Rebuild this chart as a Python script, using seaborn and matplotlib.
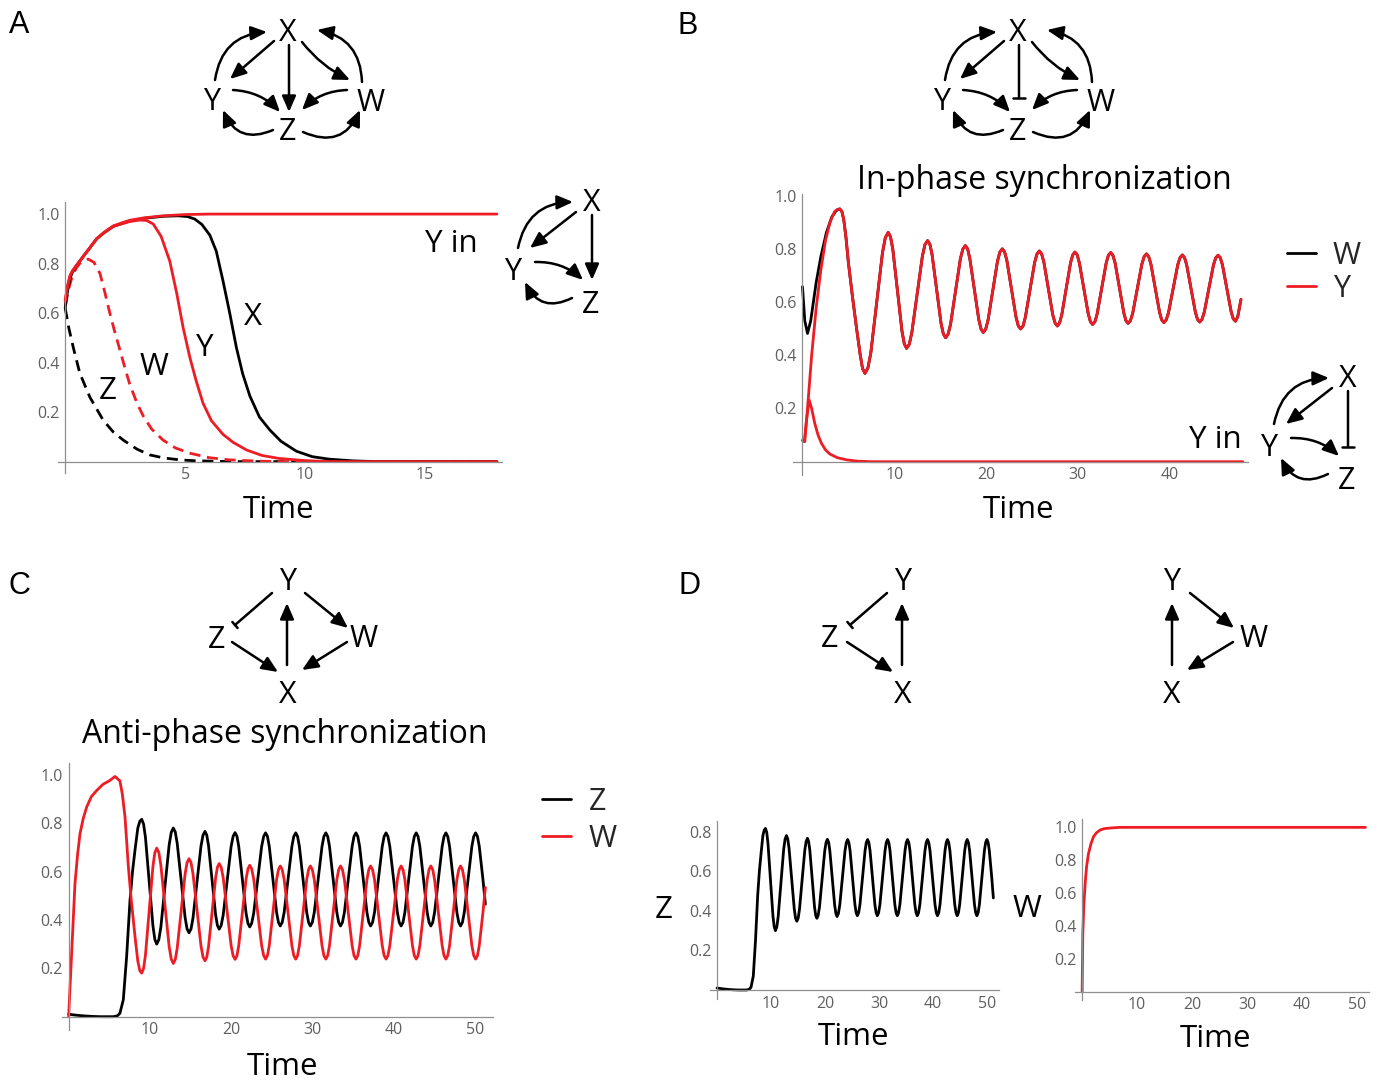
import numpy as np
import matplotlib
matplotlib.use("Agg")
import matplotlib.pyplot as plt
import seaborn as sns

sns.set_style("white")
plt.rcParams["font.family"] = ["Open Sans", "DejaVu Sans"]

RED = "#ee1c24"
GREY = "#8f8f8f"
TICK_TEXT = "#606060"
W_PX, H_PX = 1381, 1081

# ---------------- panel A : time courses (Y in) ----------------
a_yin_t = [0, 0.1, 0.2, 0.3, 0.45, 0.61, 0.8, 1.0, 1.31, 1.6, 2.0, 2.4, 2.7, 3.3, 4.08, 5.0, 6.0, 18.0]
a_yin_v = [0.65, 0.71, 0.75, 0.77, 0.79, 0.81, 0.835, 0.86, 0.9, 0.925, 0.952, 0.966, 0.975, 0.985,
           0.993, 0.998, 1.0, 1.0]

a_x_t = [0, 0.1, 0.2, 0.3, 0.45, 0.61, 0.8, 1.0, 1.31, 1.6, 2.0, 2.4, 2.7, 3.3, 4.08, 4.7, 5.1, 5.4,
         5.7, 6.03, 6.3, 6.58, 6.86, 7.14, 7.4, 7.7, 8.1, 8.53, 9.0, 9.64, 10.3, 11.0, 12.0, 13.0, 18.0]
a_x_v = [0.62, 0.69, 0.74, 0.765, 0.79, 0.81, 0.835, 0.86, 0.9, 0.923, 0.95, 0.963, 0.972, 0.983,
         0.991, 0.993, 0.99, 0.98, 0.958, 0.915, 0.85, 0.73, 0.6, 0.46, 0.355, 0.265, 0.18, 0.128,
         0.082, 0.042, 0.02, 0.01, 0.003, 0.0, 0.0]

a_y_t = [0, 0.1, 0.2, 0.3, 0.45, 0.61, 0.8, 1.0, 1.31, 1.6, 2.0, 2.4, 2.7, 3.11, 3.4, 3.67, 4.0,
         4.36, 4.65, 4.92, 5.2, 5.45, 5.75, 6.1, 6.58, 7.0, 7.56, 8.2, 8.9, 10.0, 11.0, 18.0]
a_y_v = [0.65, 0.71, 0.75, 0.77, 0.79, 0.81, 0.835, 0.86, 0.9, 0.923, 0.95, 0.962, 0.97, 0.976,
         0.974, 0.96, 0.91, 0.81, 0.68, 0.54, 0.42, 0.33, 0.235, 0.165, 0.11, 0.078, 0.047, 0.025,
         0.013, 0.004, 0.0, 0.0]

a_w_t = [0, 0.15, 0.3, 0.45, 0.6, 0.8, 0.96, 1.2, 1.45, 1.65, 1.86, 2.05, 2.27, 2.5, 2.7, 3.0,
         3.25, 3.6, 4.08, 4.6, 5.2, 6.0, 6.86, 8.0, 9.0, 18.0]
a_w_v = [0.63, 0.7, 0.75, 0.78, 0.8, 0.814, 0.818, 0.805, 0.76, 0.685, 0.6, 0.53, 0.455, 0.375,
         0.31, 0.235, 0.185, 0.132, 0.087, 0.055, 0.034, 0.016, 0.007, 0.002, 0.0, 0.0]

a_z_t = [0, 0.15, 0.34, 0.61, 1.03, 1.58, 2.0, 2.42, 3.0, 3.53, 4.1, 4.78, 5.5, 7.0, 18.0]
a_z_v = [0.62, 0.54, 0.46, 0.357, 0.26, 0.168, 0.12, 0.087, 0.05, 0.027, 0.015, 0.007, 0.003, 0.0, 0.0]

# ---------------- panel B : in-phase (W, Y) ----------------
b_y_start_t = [0, 0.25, 0.55, 1.0, 1.5, 2.0, 2.5, 3.0, 3.5, 3.8]
b_y_start_v = [0.08, 0.076, 0.2, 0.40, 0.58, 0.72, 0.83, 0.9, 0.94, 0.948]
b_w_start_t = [0, 0.25, 0.55, 0.9, 1.5, 2.0, 2.6, 3.2, 3.6, 3.85]
b_w_start_v = [0.658, 0.53, 0.482, 0.53, 0.675, 0.77, 0.86, 0.92, 0.94, 0.948]

b_osc_t = [4.08, 4.3, 4.5, 4.75, 5.0, 5.45, 5.9, 6.3, 6.55, 6.81,
           7.13, 7.45, 8.08, 8.72, 9.03, 9.35,
           9.6, 9.85, 10.35, 10.85, 11.1, 11.35,
           11.64, 11.92, 12.5, 13.07, 13.35, 13.64,
           13.89, 14.13, 14.62, 15.11, 15.36, 15.6,
           15.87, 16.14, 16.68, 17.21, 17.48, 17.75,
           18.0, 18.24, 18.73, 19.22, 19.47, 19.71,
           19.97, 20.23, 20.75, 21.26, 21.52, 21.78,
           22.03, 22.28, 22.78, 23.28, 23.53, 23.78,
           24.04, 24.29, 24.8, 25.31, 25.57, 25.82,
           26.07, 26.31, 26.8, 27.29, 27.54, 27.78,
           28.02, 28.26, 28.74, 29.22, 29.46, 29.7,
           29.94, 30.18, 30.67, 31.15, 31.39, 31.63,
           31.88, 32.12, 32.62, 33.11, 33.35, 33.6,
           33.84, 34.08, 34.55, 35.03, 35.26, 35.5,
           35.75, 36.0, 36.5, 37.0, 37.25, 37.5,
           37.74, 37.98, 38.45, 38.93, 39.16, 39.4,
           39.65, 39.9, 40.41, 40.91, 41.16, 41.41,
           41.65, 41.88, 42.36, 42.83, 43.06, 43.3,
           43.55, 43.8, 44.3, 44.8, 45.05, 45.3,
           45.54, 45.78, 46.25, 46.73, 46.96, 47.2,
           47.45, 47.8]
b_osc_v = [0.95, 0.94, 0.91, 0.84, 0.75, 0.62, 0.5, 0.4, 0.35, 0.332,
           0.352, 0.409, 0.597, 0.785, 0.842, 0.862,
           0.845, 0.798, 0.644, 0.49, 0.443, 0.426,
           0.441, 0.485, 0.629, 0.772, 0.816, 0.831,
           0.817, 0.778, 0.649, 0.519, 0.48, 0.466,
           0.479, 0.516, 0.639, 0.762, 0.799, 0.812,
           0.8, 0.764, 0.649, 0.534, 0.498, 0.486,
           0.498, 0.532, 0.643, 0.754, 0.788, 0.80,
           0.789, 0.756, 0.65, 0.543, 0.51, 0.499,
           0.51, 0.542, 0.646, 0.749, 0.781, 0.792,
           0.781, 0.751, 0.651, 0.551, 0.521, 0.51,
           0.521, 0.551, 0.649, 0.747, 0.777, 0.788,
           0.778, 0.748, 0.652, 0.556, 0.526, 0.516,
           0.526, 0.555, 0.651, 0.747, 0.776, 0.786,
           0.776, 0.747, 0.653, 0.559, 0.53, 0.52,
           0.53, 0.558, 0.651, 0.743, 0.771, 0.781,
           0.771, 0.743, 0.652, 0.561, 0.533, 0.523,
           0.533, 0.56, 0.65, 0.74, 0.767, 0.777,
           0.767, 0.74, 0.651, 0.562, 0.535, 0.525,
           0.535, 0.562, 0.651, 0.739, 0.766, 0.776,
           0.767, 0.74, 0.652, 0.564, 0.537, 0.528,
           0.545, 0.61]

b_yin_t = [0, 0.2, 0.45, 0.73, 1.0, 1.34, 1.7, 2.07, 2.5, 2.98, 3.8, 4.8, 6.0, 7.5, 48.0]
b_yin_v = [0.08, 0.075, 0.16, 0.232, 0.2, 0.144, 0.1, 0.069, 0.045, 0.029, 0.015, 0.007, 0.002, 0.0, 0.0]

# ---------------- panel C : anti-phase (Z, W) ----------------
c_w_start_t = [0, 0.2, 0.38, 0.78, 1.1, 1.4, 1.8, 2.22, 2.8, 3.45, 4.2, 5.08, 5.7, 6.3, 6.6,
               6.93, 7.34, 7.66, 8.16, 8.5, 8.75]
c_w_start_v = [0.0, 0.14, 0.275, 0.55, 0.67, 0.757, 0.82, 0.867, 0.91, 0.935, 0.96, 0.977, 0.993, 0.975, 0.92,
               0.825, 0.62, 0.495, 0.33, 0.23, 0.19]
c_z_start_t = [0, 1.0, 2.0, 3.0, 4.0, 5.5, 6.0, 6.3, 6.72, 7.13, 7.54, 7.85, 8.16, 8.5, 8.75]
c_z_start_v = [0.01, 0.006, 0.003, 0.001, 0.0, 0.0, 0.004, 0.014, 0.07, 0.25, 0.48, 0.6, 0.69, 0.78, 0.808]

c_osc_t = [8.98,
           9.21, 9.44, 9.9, 10.36, 10.59, 10.82,
           11.08, 11.33, 11.84, 12.35, 12.61, 12.86,
           13.1, 13.34, 13.83, 14.31, 14.55, 14.79,
           15.04, 15.28, 15.77, 16.26, 16.51, 16.75,
           16.97, 17.19, 17.63, 18.06, 18.28, 18.5,
           18.74, 18.99, 19.48, 19.96, 20.21, 20.45,
           20.68, 20.9, 21.35, 21.8, 22.03, 22.25,
           22.49, 22.74, 23.23, 23.71, 23.96, 24.2,
           24.43, 24.65, 25.1, 25.55, 25.78, 26.0,
           26.24, 26.48, 26.95, 27.43, 27.66, 27.9,
           28.13, 28.35, 28.8, 29.25, 29.48, 29.7,
           29.94, 30.18, 30.65, 31.13, 31.36, 31.6,
           31.83, 32.05, 32.5, 32.95, 33.18, 33.4,
           33.64, 33.88, 34.35, 34.83, 35.06, 35.3,
           35.53, 35.75, 36.2, 36.65, 36.88, 37.1,
           37.34, 37.58, 38.05, 38.53, 38.76, 39.0,
           39.23, 39.46, 39.93, 40.39, 40.62, 40.85,
           41.08, 41.31, 41.78, 42.24, 42.47, 42.7,
           42.93, 43.15, 43.6, 44.05, 44.28, 44.5,
           44.73, 44.96, 45.43, 45.89, 46.12, 46.35,
           46.58, 46.8, 47.25, 47.7, 47.93, 48.15,
           48.38, 48.61, 49.08, 49.54, 49.77, 50.0,
           50.23, 50.45, 50.9, 51.2]
c_w_osc = [0.18,
           0.2, 0.255, 0.439, 0.622, 0.677, 0.697,
           0.679, 0.627, 0.459, 0.29, 0.238, 0.22,
           0.236, 0.283, 0.437, 0.59, 0.637, 0.653,
           0.637, 0.591, 0.442, 0.293, 0.247, 0.231,
           0.246, 0.29, 0.432, 0.574, 0.618, 0.633,
           0.618, 0.575, 0.435, 0.295, 0.252, 0.237,
           0.252, 0.294, 0.432, 0.569, 0.611, 0.626,
           0.611, 0.569, 0.432, 0.295, 0.253, 0.238,
           0.253, 0.294, 0.43, 0.567, 0.608, 0.623,
           0.608, 0.567, 0.43, 0.294, 0.253, 0.238,
           0.253, 0.294, 0.43, 0.567, 0.608, 0.623,
           0.608, 0.567, 0.43, 0.294, 0.253, 0.238,
           0.253, 0.294, 0.43, 0.567, 0.608, 0.623,
           0.608, 0.567, 0.43, 0.294, 0.253, 0.238,
           0.253, 0.294, 0.43, 0.567, 0.608, 0.623,
           0.608, 0.567, 0.43, 0.294, 0.253, 0.238,
           0.253, 0.294, 0.43, 0.567, 0.608, 0.623,
           0.608, 0.567, 0.43, 0.294, 0.253, 0.238,
           0.253, 0.294, 0.43, 0.567, 0.608, 0.623,
           0.608, 0.567, 0.43, 0.294, 0.253, 0.238,
           0.253, 0.294, 0.43, 0.567, 0.608, 0.623,
           0.608, 0.567, 0.43, 0.294, 0.253, 0.238,
           0.253, 0.294, 0.43, 0.534]
c_z_osc = [0.816,
           0.796, 0.741, 0.558, 0.375, 0.32, 0.30,
           0.318, 0.37, 0.54, 0.71, 0.762, 0.78,
           0.764, 0.717, 0.564, 0.41, 0.363, 0.347,
           0.363, 0.408, 0.557, 0.705, 0.75, 0.766,
           0.751, 0.707, 0.564, 0.421, 0.377, 0.362,
           0.377, 0.42, 0.562, 0.703, 0.746, 0.761,
           0.746, 0.704, 0.566, 0.428, 0.386, 0.371,
           0.386, 0.428, 0.566, 0.703, 0.745, 0.76,
           0.745, 0.704, 0.568, 0.431, 0.39, 0.375,
           0.39, 0.431, 0.568, 0.704, 0.745, 0.76,
           0.745, 0.704, 0.568, 0.431, 0.39, 0.375,
           0.39, 0.431, 0.568, 0.704, 0.745, 0.76,
           0.745, 0.704, 0.568, 0.431, 0.39, 0.375,
           0.39, 0.431, 0.568, 0.704, 0.745, 0.76,
           0.745, 0.704, 0.568, 0.431, 0.39, 0.375,
           0.39, 0.431, 0.568, 0.704, 0.745, 0.76,
           0.745, 0.704, 0.568, 0.431, 0.39, 0.375,
           0.39, 0.431, 0.568, 0.704, 0.745, 0.76,
           0.745, 0.704, 0.568, 0.431, 0.39, 0.375,
           0.39, 0.431, 0.568, 0.704, 0.745, 0.76,
           0.745, 0.704, 0.568, 0.431, 0.39, 0.375,
           0.39, 0.431, 0.568, 0.704, 0.745, 0.76,
           0.745, 0.704, 0.568, 0.465]

# ---------------- panel D : W alone ----------------
d_w_t = [0, 0.12, 0.3, 0.55, 0.8, 1.15, 1.6, 2.06, 2.6, 3.27, 4.0, 5.09, 6.9, 51.5]
d_w_v = [0.0, 0.355, 0.52, 0.66, 0.76, 0.84, 0.9, 0.943, 0.967, 0.984, 0.992, 0.996, 1.0, 1.0]

# combined series
b_w_t = b_w_start_t + b_osc_t
b_w_v = b_w_start_v + b_osc_v
b_y_t = b_y_start_t + b_osc_t
b_y_v = b_y_start_v + b_osc_v
c_w_t = c_w_start_t + c_osc_t
c_w_v = c_w_start_v + c_w_osc
c_z_t = c_z_start_t + c_osc_t
c_z_v = c_z_start_v + c_z_osc

fig = plt.figure(figsize=(W_PX / 100, H_PX / 100), dpi=100)


def axes_px(left, top, right, bottom):
    return fig.add_axes([left / W_PX, 1 - bottom / H_PX, (right - left) / W_PX, (bottom - top) / H_PX])


def math_axes(ax, xlim, ylim, xmajor, xminor, ymajor, yminor):
    # axes crossing at the origin, ticks pointing inwards
    ax.set_xlim(xlim)
    ax.set_ylim(ylim)
    ax.spines[["top", "right"]].set_visible(False)
    ax.spines["left"].set_position(("data", 0))
    ax.spines["bottom"].set_position(("data", 0))
    for s in ("left", "bottom"):
        ax.spines[s].set_color(GREY)
        ax.spines[s].set_linewidth(0.9)
    ax.set_xticks(xmajor)
    ax.set_xticklabels([f"{v:g}" for v in xmajor])
    ax.set_yticks(ymajor)
    ax.set_yticklabels([f"{v:.1f}" for v in ymajor])
    ax.set_xticks(xminor, minor=True)
    ax.set_yticks(yminor, minor=True)
    ax.tick_params(which="both", direction="in", color=GREY, width=0.8,
                   labelsize=11.5, labelcolor=TICK_TEXT, pad=4)
    ax.tick_params(which="major", length=3.8)
    ax.tick_params(which="minor", length=2.2)
    ax.set_xlabel("")
    ax.set_ylabel("")
    ax.patch.set_alpha(0)


LW = 2.0
DASH = (0, (4, 2.4))
LINE = dict(errorbar=None, solid_joinstyle="round")

# panel A
ax_a = axes_px(58, 201.7, 501.7, 473)
sns.lineplot(x=a_z_t, y=a_z_v, ax=ax_a, color="black", lw=LW, linestyle=DASH, errorbar=None)
sns.lineplot(x=a_w_t, y=a_w_v, ax=ax_a, color=RED, lw=LW, linestyle=DASH, errorbar=None)
sns.lineplot(x=a_x_t, y=a_x_v, ax=ax_a, color="black", lw=LW, **LINE)
sns.lineplot(x=a_y_t, y=a_y_v, ax=ax_a, color=RED, lw=LW, **LINE)
sns.lineplot(x=a_yin_t, y=a_yin_v, ax=ax_a, color=RED, lw=LW, **LINE)
math_axes(ax_a, (-0.3, 18.2), (-0.046, 1.05), [5, 10, 15], np.arange(1, 19),
          [0.2, 0.4, 0.6, 0.8, 1.0], np.arange(0.05, 1.01, 0.05))

# panel B
ax_b = axes_px(793.3, 194.3, 1248.3, 475)
sns.lineplot(x=b_yin_t, y=b_yin_v, ax=ax_b, color=RED, lw=LW, **LINE)
sns.lineplot(x=b_w_t, y=b_w_v, ax=ax_b, color="black", lw=LW, label="W", **LINE)
sns.lineplot(x=b_y_t, y=b_y_v, ax=ax_b, color=RED, lw=LW, label="Y", **LINE)
math_axes(ax_b, (-1.0, 48.6), (-0.05, 1.005), [10, 20, 30, 40], np.arange(2, 49, 2),
          [0.2, 0.4, 0.6, 0.8, 1.0], np.arange(0.05, 1.01, 0.05))
ax_b.legend(loc="upper left", bbox_to_anchor=(1287 / W_PX, 1 - 241 / H_PX),
            bbox_transform=fig.transFigure, frameon=False, fontsize=22,
            handlelength=0.95, handletextpad=0.55, labelspacing=0.1,
            borderpad=0, borderaxespad=0)

# panel C
ax_c = axes_px(61.7, 762.7, 492.7, 1030)
sns.lineplot(x=c_z_t, y=c_z_v, ax=ax_c, color="black", lw=LW, label="Z", **LINE)
sns.lineplot(x=c_w_t, y=c_w_v, ax=ax_c, color=RED, lw=LW, label="W", **LINE)
math_axes(ax_c, (-0.85, 52.1), (-0.055, 1.05), [10, 20, 30, 40, 50], np.arange(2, 52, 2),
          [0.2, 0.4, 0.6, 0.8, 1.0], np.arange(0.05, 1.01, 0.05))
ax_c.legend(loc="upper left", bbox_to_anchor=(542 / W_PX, 1 - 787 / H_PX),
            bbox_transform=fig.transFigure, frameon=False, fontsize=22,
            handlelength=0.95, handletextpad=0.58, labelspacing=0.22,
            borderpad=0, borderaxespad=0)

# panel D
ax_d1 = axes_px(710, 820.7, 999.3, 999.3)
sns.lineplot(x=c_z_t, y=c_z_v, ax=ax_d1, color="black", lw=LW, **LINE)
math_axes(ax_d1, (-1.3, 52.3), (-0.047, 0.855), [10, 20, 30, 40, 50], np.arange(2, 53, 2),
          [0.2, 0.4, 0.6, 0.8], np.arange(0.05, 0.86, 0.05))

ax_d2 = axes_px(1075, 819.3, 1369.3, 1000)
sns.lineplot(x=d_w_t, y=d_w_v, ax=ax_d2, color=RED, lw=LW, **LINE)
math_axes(ax_d2, (-1.3, 52.2), (-0.05, 1.049), [10, 20, 30, 40, 50], np.arange(2, 53, 2),
          [0.2, 0.4, 0.6, 0.8, 1.0], np.arange(0.05, 1.01, 0.05))

# ---------------- overlay: labels and network diagrams (pixel layout) ----------------
ov = fig.add_axes([0, 0, 1, 1], zorder=5)
ov.set_xlim(0, W_PX)
ov.set_ylim(H_PX, 0)
ov.axis("off")


def label(x, y, s, size=22, family=None):
    kw = {"family": family} if family else {}
    ov.text(x, y, s, fontsize=size, ha="center", va="baseline", color="black", **kw)


def edge(p0, p1, rad=0.0, kind="act", lw=1.8, scale=12, bar=0.36):
    if kind == "act":
        style = "-|>,head_length=0.8,head_width=0.35"
    else:
        style = f"-[,widthB={bar},lengthB=0"
    ov.annotate("", xy=p1, xytext=p0,
                arrowprops=dict(arrowstyle=style, connectionstyle=f"arc3,rad={rad}",
                                color="black", lw=lw, shrinkA=0, shrinkB=0, mutation_scale=scale))


def four_node(dx, inhibit):
    for s, (x, y) in {"X": (288, 30), "Y": (212, 98.5), "W": (371, 100), "Z": (287.5, 128.5)}.items():
        label(x + dx, y + 11, s)
    edge((215 + dx, 80), (267 + dx, 32), -0.4)
    edge((274 + dx, 41), (230 + dx, 79))
    if inhibit:
        edge((289 + dx, 45), (289 + dx, 98), kind="inh", bar=0.36)
    else:
        edge((289 + dx, 45), (289 + dx, 112))
    edge((302 + dx, 42), (350 + dx, 80), 0.12)
    edge((362 + dx, 82), (317 + dx, 30), 0.4)
    edge((233 + dx, 90), (280 + dx, 112), -0.2)
    edge((347 + dx, 90), (302 + dx, 110), 0.2)
    edge((273 + dx, 130), (223 + dx, 110), -0.5)
    edge((303 + dx, 132), (360 + dx, 110), 0.5)


def three_node(dx, dy, inhibit):
    for s, (x, y) in {"X": (591.5, 200), "Y": (512.5, 268.5), "Z": (591, 302)}.items():
        label(x + dx, y + dy + 11, s)
    edge((518 + dx, 248 + dy), (573 + dx, 202 + dy), -0.4)
    edge((576 + dx, 212 + dy), (530 + dx, 248 + dy))
    if inhibit:
        edge((592 + dx, 215 + dy), (592 + dx, 271 + dy), kind="inh", bar=0.36)
    else:
        edge((592 + dx, 215 + dy), (592 + dx, 280 + dy))
    edge((535 + dx, 262 + dy), (583 + dx, 280 + dy), -0.2)
    edge((572 + dx, 298 + dy), (525 + dx, 282 + dy), -0.5)


four_node(0, False)
four_node(730, True)
three_node(0, 0, False)
three_node(756, 176, True)

# panel C diagram
for s, (x, y) in {"Y": (288, 579), "Z": (217, 637), "W": (364, 636), "X": (288, 692)}.items():
    label(x, y + 11, s)
edge((272, 593), (235, 625), kind="inh", bar=0.24)
edge((287, 665), (287, 603))
edge((305, 593), (348, 628))
edge((232, 642), (278, 672))
edge((347, 642), (302, 670))

# panel D diagrams
for s, (x, y) in {"Y": (903, 579), "Z": (830, 636), "X": (903, 692)}.items():
    label(x, y + 11, s)
edge((887, 593), (850, 625), kind="inh", bar=0.24)
edge((902, 665), (902, 603))
edge((847, 642), (893, 672))
for s, (x, y) in {"Y": (1172, 579), "W": (1254, 636), "X": (1172, 692)}.items():
    label(x, y + 11, s)
edge((1190, 593), (1234, 628))
edge((1233, 642), (1187, 670))
edge((1172, 665), (1172, 603))

# panel letters
for s, (x, y) in {"A": (19, 33), "B": (688, 34), "C": (19, 594), "D": (690, 594)}.items():
    label(x, y, s, size=22, family="Liberation Sans")

# titles, axis words, curve labels
label(1044, 189, "In-phase synchronization", size=23)
label(285, 743, "Anti-phase synchronization", size=23)
for x, y in [(279, 518), (1019, 518), (283, 1075), (854, 1045), (1216, 1047)]:
    label(x, y, "Time", size=22.5)
label(451.5, 252, "Y in", size=22.5)
label(1215, 448, "Y in", size=22.5)
label(252.5, 325, "X", size=22.5)
label(205, 356.5, "Y", size=22.5)
label(153.5, 375, "W", size=22.5)
label(107.5, 399, "Z", size=22.5)
label(664, 918, "Z", size=22.5)
label(1027, 917, "W", size=22.5)

fig.savefig("out.png", dpi=100)
